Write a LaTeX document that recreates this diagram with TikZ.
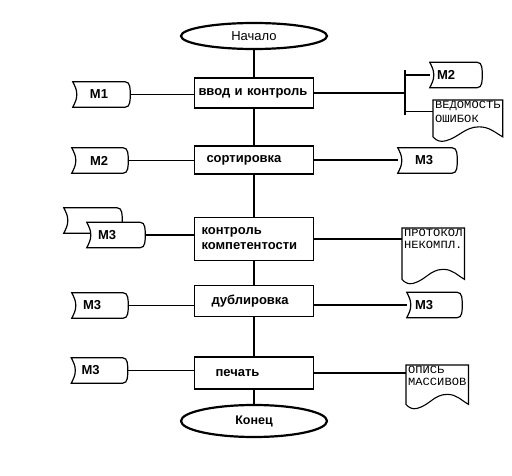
\documentclass[tikz,border=0pt]{standalone}
\usepackage{fontspec}
\setmainfont{Liberation Sans}
\newfontfamily\docfont[FakeStretch=1.1]{Liberation Mono}
\usetikzlibrary{shapes.geometric,calc}

\begin{document}
\begin{tikzpicture}[
  x=1pt, y=-1pt,
  term/.style={
    ellipse, draw, line width=2.2pt,
    minimum width=146pt, minimum height=#1,
    inner sep=0pt,
  },
  proc/.style={
    rectangle, draw, line width=1.9pt,
    text width=111pt, minimum height=#1,
    inner xsep=4pt, inner ysep=0pt, align=left,
    font=\fontsize{13}{15}\selectfont\bfseries,
  },
  tape/.style={
    text width=#1, minimum height=25pt, inner sep=0pt,
    align=left,
    font=\fontsize{13}{13}\selectfont\bfseries,
    append after command={\pgfextra{
      \draw[line width=1.2pt, fill=white]
      (\tikzlastnode.north west) to[out=-65,in=90]
      ([xshift=4pt]\tikzlastnode.west) to[out=-90,in=65]
      (\tikzlastnode.south west) -- ([xshift=-5pt]\tikzlastnode.south east)
      to[out=0,in=-90] (\tikzlastnode.east) to[out=90,in=0]
      ([xshift=-5pt]\tikzlastnode.north east) -- cycle;}}
  },
  tape/.default=56pt,
  doc/.style={
    anchor=north west, align=left, inner xsep=2pt, inner ysep=1pt,
    font=\docfont\fontsize{11}{11.5}\selectfont,
    append after command={\pgfextra{
      \draw[line width=1.1pt]
      (\tikzlastnode.north west) -- (\tikzlastnode.north east) --
      ($(\tikzlastnode.south east)+(0,-#1)$) to[out=150,in=0]
      ($(\tikzlastnode.south west)!0.66!(\tikzlastnode.south east)+(0,-#1+10pt)$) to[out=180,in=15]
      ($(\tikzlastnode.south west)!0.18!(\tikzlastnode.south east)+(0,-#1-4pt)$) to[out=195,in=-50]
      ($(\tikzlastnode.south west)+(0,-#1)$) -- cycle;}}
  },
  doc/.default=14pt,
  spine/.style={line width=2.6pt},
  link/.style={line width=1.1pt},
  fork/.style={line width=2pt},
]
\useasboundingbox (0,0) rectangle (512,476);

\node[term=26pt, font=\fontsize{13}{13}\selectfont] (start) at (254,36) {Начало};
\node[proc=30pt] (input) at (254,93) {ввод и контроль};
\node[proc=28pt] (sort) at (254,160) {\hspace*{8pt}сортировка};
\node[proc=43pt] (check) at (254,239) {\hspace*{3pt}контроль\\\hspace*{3pt}компетентости};
\node[proc=31pt] (dup) at (254,301) {\hspace*{13pt}дублировка};
\node[proc=32pt] (print) at (254,373) {\hspace*{17pt}печать};
\node[term=32pt, font=\fontsize{12.5}{13}\selectfont\bfseries] (stop) at (254,421) {Конец};

\draw[spine] (start) -- (input) -- (sort) -- (check) -- (dup) -- (print) -- (stop);

\node[tape=57pt] (mA) at (101.5,94.5) {\hspace*{17pt}М1};
\node[tape] (mB) at (100,160.5) {\hspace*{18pt}М2};
\node[tape=58pt] (mCback) at (93,220.5) {};
\node[tape=58pt] (mC) at (116,235) {\hspace*{11pt}М3};
\node[tape] (mD) at (100,305.5) {\hspace*{11pt}М3};
\node[tape] (mE) at (99.5,370.5) {\hspace*{10pt}М3};

\draw[link] (mA.east) -- (mA.east -| input.west);
\draw[link] (mB.east) -- (mB.east -| sort.west);
\draw[link] (mC.east) -- (mC.east -| check.west);
\draw[link] (mD.east) -- (mD.east -| dup.west);
\draw[link] (mE.east) -- (mE.east -| print.west);

\coordinate (split) at (405,93);
\coordinate (splittop) at (405,70);
\coordinate (splitbot) at (405,115);
\node[tape=52pt] (mF) at (456,75) {\hspace*{7pt}М2};
\node[doc=13pt] (errors) at (433,100) {ВЕДОМОСТЬ\\[2.5pt]ОШИБОК};
\node[tape=59pt] (mG) at (427.5,160.5) {\hspace*{17pt}М3};
\node[doc=30pt] (report) at (402,228) {ПРОТОКОЛ\\НЕКОМПЛ.};
\node[tape=55pt] (mH) at (434.5,305) {\hspace*{8pt}М3};
\node[doc=18pt] (listing) at (406,365) {ОПИСЬ\\МАССИВОВ};

\draw[link] (input.east) -- (input.east -| split);
\draw[fork] (splittop) -- (splitbot);
\draw[link] (mF.west -| split) -- (mF.west);
\draw[link] (errors.west -| split) -- (errors.west);
\draw[link] (sort.east) -- (sort.east -| mG.west);
\draw[link] (check.east) -- (check.east -| report.west);
\draw[link] (mH.west -| dup.east) -- (mH.west);
\draw[link] (print.east) -- (print.east -| listing.west);
\end{tikzpicture}
\end{document}
